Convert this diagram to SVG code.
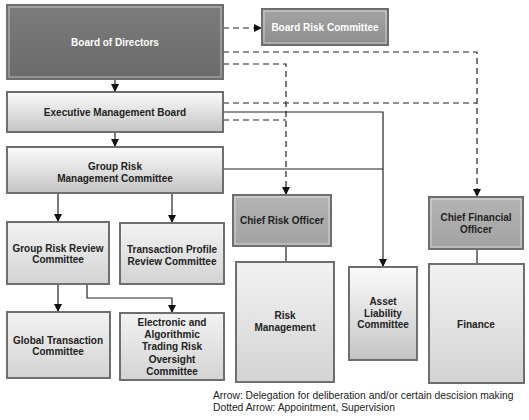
<svg xmlns="http://www.w3.org/2000/svg" width="529" height="420" viewBox="0 0 529 420">
<defs>
<linearGradient id="gLight" x1="0" y1="0" x2="0" y2="1">
<stop offset="0" stop-color="#fbfbfb"/><stop offset="0.45" stop-color="#e3e3e3"/><stop offset="1" stop-color="#c4c4c4"/>
</linearGradient>
<linearGradient id="gDark" x1="0" y1="0" x2="0" y2="1">
<stop offset="0" stop-color="#7c7c7c"/><stop offset="1" stop-color="#6a6a6a"/>
</linearGradient>
<linearGradient id="gMid" x1="0" y1="0" x2="0" y2="1">
<stop offset="0" stop-color="#b4b4b4"/><stop offset="1" stop-color="#a2a2a2"/>
</linearGradient>
<linearGradient id="gBrc" x1="0" y1="0" x2="0" y2="1">
<stop offset="0" stop-color="#a4a4a4"/><stop offset="1" stop-color="#8e8e8e"/>
</linearGradient>
<linearGradient id="gPale" x1="0" y1="0" x2="0" y2="1">
<stop offset="0" stop-color="#f2f2f2"/><stop offset="0.5" stop-color="#e3e3e3"/><stop offset="1" stop-color="#d3d3d3"/>
</linearGradient>
<marker id="ah" viewBox="0 0 10 10" refX="10" refY="5" markerWidth="8" markerHeight="8" markerUnits="userSpaceOnUse" orient="auto">
<path d="M0,0 L10,5 L0,10 Z" fill="#111"/>
</marker>
</defs>
<style>
.box{stroke:#6e6e6e;stroke-width:2}
.hl{fill:none;stroke:#ffffff;stroke-opacity:0.55;stroke-width:1}
.t{font-family:"Liberation Sans",Arial,sans-serif;font-size:10px;font-weight:bold;fill:#222;text-anchor:middle}
.w{fill:#ffffff}
.s{fill:none;stroke:#222;stroke-width:1.2}
.d{fill:none;stroke:#222;stroke-width:1.2;stroke-dasharray:6 4}
.leg{font-family:"Liberation Sans",Arial,sans-serif;font-size:10.3px;fill:#222}
</style>
<rect width="529" height="420" fill="#ffffff"/>

<g id="connectors">
<path class="d" d="M223,28 H262" marker-end="url(#ah)"/>
<path class="d" d="M223,52 H477 V197" marker-end="url(#ah)"/>
<path class="d" d="M223,64 H286 V195" marker-end="url(#ah)"/>
<path class="d" d="M223,103 H477"/>
<path class="d" d="M223,120 H286"/>
<path class="s" d="M223,112 H383 V267" marker-end="url(#ah)"/>
<path class="s" d="M223,169 H383"/>
<path class="s" d="M115,79 V92" marker-end="url(#ah)"/>
<path class="s" d="M115,132 V147" marker-end="url(#ah)"/>
<path class="s" d="M58,193 V222" marker-end="url(#ah)"/>
<path class="s" d="M172,193 V223" marker-end="url(#ah)"/>
<path class="s" d="M58,284 V312" marker-end="url(#ah)"/>
<path class="s" d="M87,284 V298 H172 V313" marker-end="url(#ah)"/>
<path class="s" d="M286,246 V262"/>
<path class="s" d="M477,249 V264"/>
</g>

<g id="board">
<rect class="box" x="7" y="5" width="216" height="74" fill="url(#gDark)"/>
<rect class="hl" x="9" y="7" width="212" height="70"/>
<text class="t w" x="115" y="46">Board of Directors</text>
</g>
<g id="brc">
<rect class="box" x="262" y="9" width="126" height="36" fill="url(#gBrc)"/>
<rect class="hl" x="264" y="11" width="122" height="32"/>
<text class="t w" x="325" y="31">Board Risk Committee</text>
</g>
<g id="emb">
<rect class="box" x="7" y="92" width="216" height="40" fill="url(#gLight)"/>
<text class="t" x="115" y="115.5">Executive Management Board</text>
</g>
<g id="grmc">
<rect class="box" x="7" y="147" width="216" height="46" fill="url(#gLight)"/>
<text class="t" x="115" y="169.5">Group Risk</text>
<text class="t" x="115" y="181.5">Management Committee</text>
</g>
<g id="cro">
<rect class="box" x="233" y="195" width="98" height="51" fill="url(#gMid)"/>
<rect class="hl" x="235" y="197" width="94" height="47"/>
<text class="t" x="282" y="223.5">Chief Risk Officer</text>
</g>
<g id="cfo">
<rect class="box" x="429" y="197" width="94" height="52" fill="url(#gMid)"/>
<rect class="hl" x="431" y="199" width="90" height="48"/>
<text class="t" x="476" y="220.5">Chief Financial</text>
<text class="t" x="476" y="232.5">Officer</text>
</g>
<g id="grrc">
<rect class="box" x="7" y="222" width="102" height="62" fill="url(#gPale)"/>
<text class="t" x="58" y="251.5">Group Risk Review</text>
<text class="t" x="58" y="263">Committee</text>
</g>
<g id="tprc">
<rect class="box" x="120" y="223" width="104" height="61" fill="url(#gPale)"/>
<text class="t" x="172" y="252.5">Transaction Profile</text>
<text class="t" x="172" y="264.5">Review Committee</text>
</g>
<g id="gtc">
<rect class="box" x="7" y="312" width="103" height="66" fill="url(#gPale)"/>
<text class="t" x="58" y="343.5">Global Transaction</text>
<text class="t" x="58" y="355">Committee</text>
</g>
<g id="eatroc">
<rect class="box" x="120" y="313" width="104" height="67" fill="url(#gPale)"/>
<text class="t" x="172" y="325.5">Electronic and</text>
<text class="t" x="172" y="337.5">Algorithmic</text>
<text class="t" x="172" y="350">Trading Risk</text>
<text class="t" x="172" y="362.5">Oversight</text>
<text class="t" x="172" y="375">Committee</text>
</g>
<g id="rm">
<rect class="box" x="236" y="262" width="98" height="120" fill="url(#gPale)"/>
<text class="t" x="285" y="318.5">Risk</text>
<text class="t" x="285" y="330.5">Management</text>
</g>
<g id="alc">
<rect class="box" x="349" y="267" width="68" height="93" fill="url(#gLight)"/>
<text class="t" x="383" y="304.5">Asset</text>
<text class="t" x="383" y="316.5">Liability</text>
<text class="t" x="383" y="328">Committee</text>
</g>
<g id="finance">
<rect class="box" x="429" y="264" width="95" height="119" fill="url(#gPale)"/>
<text class="t" x="476" y="327.5">Finance</text>
</g>

<g id="legend">
<text class="leg" x="213" y="399">Arrow: Delegation for deliberation and/or certain descision making</text>
<text class="leg" x="213" y="410.5">Dotted Arrow: Appointment, Supervision</text>
</g>
</svg>
